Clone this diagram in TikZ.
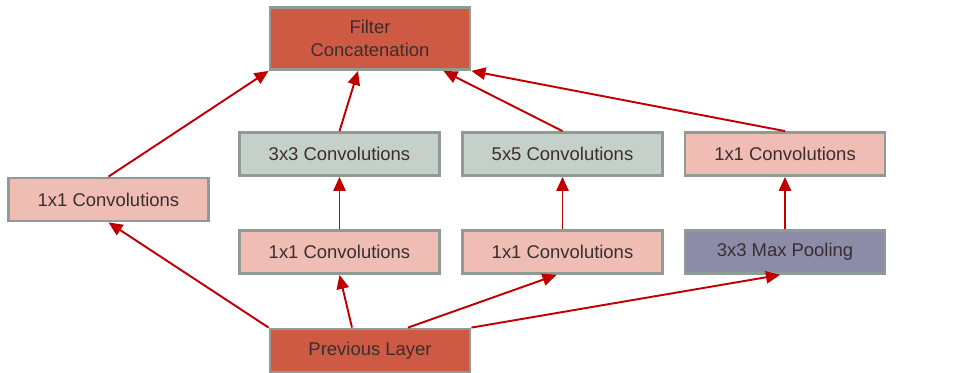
\documentclass[tikz,border=0pt]{standalone}
\usepackage{fontspec}
\setmainfont{Liberation Sans}
\usetikzlibrary{arrows.meta,calc,positioning}
\definecolor{boxred}{HTML}{CF5A43}
\definecolor{boxpink}{HTML}{F0BDB5}
\definecolor{boxgray}{HTML}{C6D0CB}
\definecolor{boxpurple}{HTML}{8C8CA8}
\definecolor{boxedge}{HTML}{8E9C94}
\definecolor{arrowred}{HTML}{C00000}
\definecolor{textdark}{HTML}{3A2E2E}
\tikzstyle{layerbox}=[draw=boxedge, line width=1.6pt, rectangle, minimum width=4.0cm, minimum height=0.86cm, align=center, text=textdark, font=\fontsize{10.5}{13}\selectfont]
\tikzstyle{redbox}=[layerbox, fill=boxred]
\tikzstyle{pinkbox}=[layerbox, fill=boxpink]
\tikzstyle{graybox}=[layerbox, fill=boxgray]
\tikzstyle{poolbox}=[layerbox, fill=boxpurple]
\tikzstyle{flow}=[line width=1.1pt, draw=arrowred, -{Triangle[length=8pt,width=7pt]}]

\begin{document}
\begin{tikzpicture}[x=0.02cm, y=-0.02cm]
    \useasboundingbox (0,0) rectangle (973,372);
    % nodes
    \node[redbox, minimum height=1.24cm] (concat) at (370, 38.5) {Filter\\Concatenation};
    \node[pinkbox] (left1) at (108.5, 199.5) {1x1 Convolutions};
    \node[graybox] (conv3) at (339.5, 154) {3x3 Convolutions};
    \node[graybox] (conv5) at (562.5, 154) {5x5 Convolutions};
    \node[pinkbox] (right1) at (785, 154) {1x1 Convolutions};
    \node[pinkbox] (red3) at (339.5, 252) {1x1 Convolutions};
    \node[pinkbox] (red5) at (562.5, 252) {1x1 Convolutions};
    \node[poolbox] (pool) at (785, 252) {3x3 Max Pooling};
    \node[redbox] (prev) at (370, 350.5) {Previous Layer};

    % from the previous layer
    \draw[flow] (prev.north west) -- (left1.south);
    \draw[flow] ($(prev.north)+(-18,0)$) -- (red3.south);
    \draw[flow] ($(prev.north)+(38,0)$) -- ($(red5.south)+(-6,0)$);
    \draw[flow] (prev.north east) -- ($(pool.south)+(-5,0)$);

    % inside the branches
    \draw[flow] (red3.north) -- (conv3.south);
    \draw[flow] (red5.north) -- (conv5.south);
    \draw[flow] (pool.north) -- (right1.south);

    % into the concatenation
    \draw[flow] (left1.north) -- (concat.south west);
    \draw[flow] (conv3.north) -- ($(concat.south)+(-12,0)$);
    \draw[flow] (conv5.north) -- ($(concat.south east)+(-28,0)$);
    \draw[flow] (right1.north) -- (concat.south east);
\end{tikzpicture}
\end{document}
